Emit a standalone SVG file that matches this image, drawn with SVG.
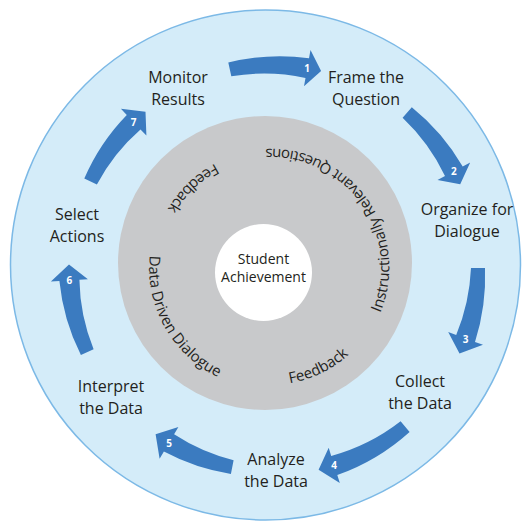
<svg xmlns="http://www.w3.org/2000/svg" width="525" height="523" viewBox="0 0 525 523">
<style>
.lbl{font-family:"Open Sans","Liberation Sans",sans-serif;font-size:16px;fill:#231f20;text-anchor:middle}
.ring{font-family:"Open Sans","Liberation Sans",sans-serif;font-size:15px;fill:#231f20;text-anchor:middle}
.ctr{font-family:"Open Sans","Liberation Sans",sans-serif;font-size:14px;fill:#231f20;text-anchor:middle}
.arr{fill:#3b7bc0}
.num{font-family:"Open Sans","Liberation Sans",sans-serif;font-size:10px;font-weight:bold;fill:#ffffff;text-anchor:middle;dominant-baseline:central}
</style>
<defs>
<path id="p1" d="M346.8,358.9 A119,119 0 0 0 210.1,165.1"/>
<path id="p2" d="M241.7,381.5 A117,117 0 0 0 376.9,315.6"/>
<path id="p3" d="M193.4,174.4 A121,121 0 0 0 310,382.2"/>
<path id="p4" d="M261.8,150.3 A118,118 0 0 0 152.6,255.7"/>
</defs>
<rect width="525" height="523" fill="#ffffff"/>
<g id="outer-ring">
<circle cx="265.5" cy="265" r="255" fill="#d4ecf9" stroke="#7cb9e6" stroke-width="1.5"/>
</g>
<g id="inner-ring">
<circle cx="265" cy="263" r="147" fill="#c8c9cb"/>
<text class="ring"><textPath href="#p1" startOffset="107">Instructionally</textPath></text>
<text class="ring"><textPath href="#p1" startOffset="190.6">Relevant</textPath></text>
<text class="ring"><textPath href="#p1" startOffset="260">Questions</textPath></text>
<text class="ring"><textPath href="#p2" startOffset="50%">Feedback</textPath></text>
<text class="ring"><textPath href="#p3" startOffset="50%">Data Driven Dialogue</textPath></text>
<text class="ring"><textPath href="#p4" startOffset="50%">Feedback</textPath></text>
</g>
<g id="center">
<circle cx="263.5" cy="272.5" r="48.5" fill="#ffffff"/>
<text class="ctr" x="263.5" y="264">Student</text>
<text class="ctr" x="263.5" y="282">Achievement</text>
</g>
<g id="connectors">
<path class="arr" d="M228.3,62.6 A211.5,211.5 0 0 1 309,58.2 L310.5,49.9 L321.1,71 L304,86.3 L305.5,77.9 A194.5,194.5 0 0 0 231.3,76.3 Z"/>
<text class="num" x="307.2" y="68.1">1</text>
<path class="arr" d="M411.8,107.3 A214.5,214.5 0 0 1 462.7,166.6 L470.2,162.6 L460.2,184.2 L437.5,180 L445,176 A197.5,197.5 0 0 0 402.6,117.8 Z"/>
<text class="num" x="453.9" y="171.3">2</text>
<path class="arr" d="M485,268 A214.5,214.5 0 0 1 475,341.9 L483,344.8 L459.5,353.4 L448.2,332.1 L456.2,335 A197.5,197.5 0 0 0 471,268 Z"/>
<text class="num" x="465.6" y="338.5">3</text>
<path class="arr" d="M409.6,431.9 A215.5,215.5 0 0 1 337.3,475 L339.8,483.1 L318.6,469.7 L328.7,447.8 L331.2,455.9 A198.5,198.5 0 0 0 400.6,421.2 Z"/>
<text class="num" x="334.2" y="465.4">4</text>
<path class="arr" d="M230.9,473.9 A211.5,211.5 0 0 1 163.9,451.5 L159.6,458.8 L155.6,434.3 L178.4,427 L174.1,434.3 A194.5,194.5 0 0 0 233.6,460.2 Z"/>
<text class="num" x="169" y="442.9">5</text>
<path class="arr" d="M80.9,355.1 A211.5,211.5 0 0 1 59.4,281 L50.9,281.5 L69,264.5 L87.9,279.3 L79.4,279.8 A194.5,194.5 0 0 0 93.6,349.3 Z"/>
<text class="num" x="69.4" y="280.4">6</text>
<path class="arr" d="M84.3,178.5 A209.5,209.5 0 0 1 126.8,114.9 L120.9,108.8 L145.5,111.8 L146.4,135.6 L140.5,129.5 A192.5,192.5 0 0 0 96.9,184.5 Z"/>
<text class="num" x="133.6" y="122.2">7</text>
</g>
<g id="monitor-results"><text class="lbl" x="178" y="83">Monitor</text><text class="lbl" x="178" y="105">Results</text></g>
<g id="frame-question"><text class="lbl" x="366" y="83">Frame the</text><text class="lbl" x="366" y="105">Question</text></g>
<g id="organize-dialogue"><text class="lbl" x="467" y="215">Organize for</text><text class="lbl" x="467" y="237">Dialogue</text></g>
<g id="collect-data"><text class="lbl" x="420" y="387">Collect</text><text class="lbl" x="420" y="409">the Data</text></g>
<g id="analyze-data"><text class="lbl" x="276" y="465">Analyze</text><text class="lbl" x="276" y="487">the Data</text></g>
<g id="interpret-data"><text class="lbl" x="111" y="392">Interpret</text><text class="lbl" x="111" y="414">the Data</text></g>
<g id="select-actions"><text class="lbl" x="77" y="220">Select</text><text class="lbl" x="77" y="242">Actions</text></g>
</svg>
